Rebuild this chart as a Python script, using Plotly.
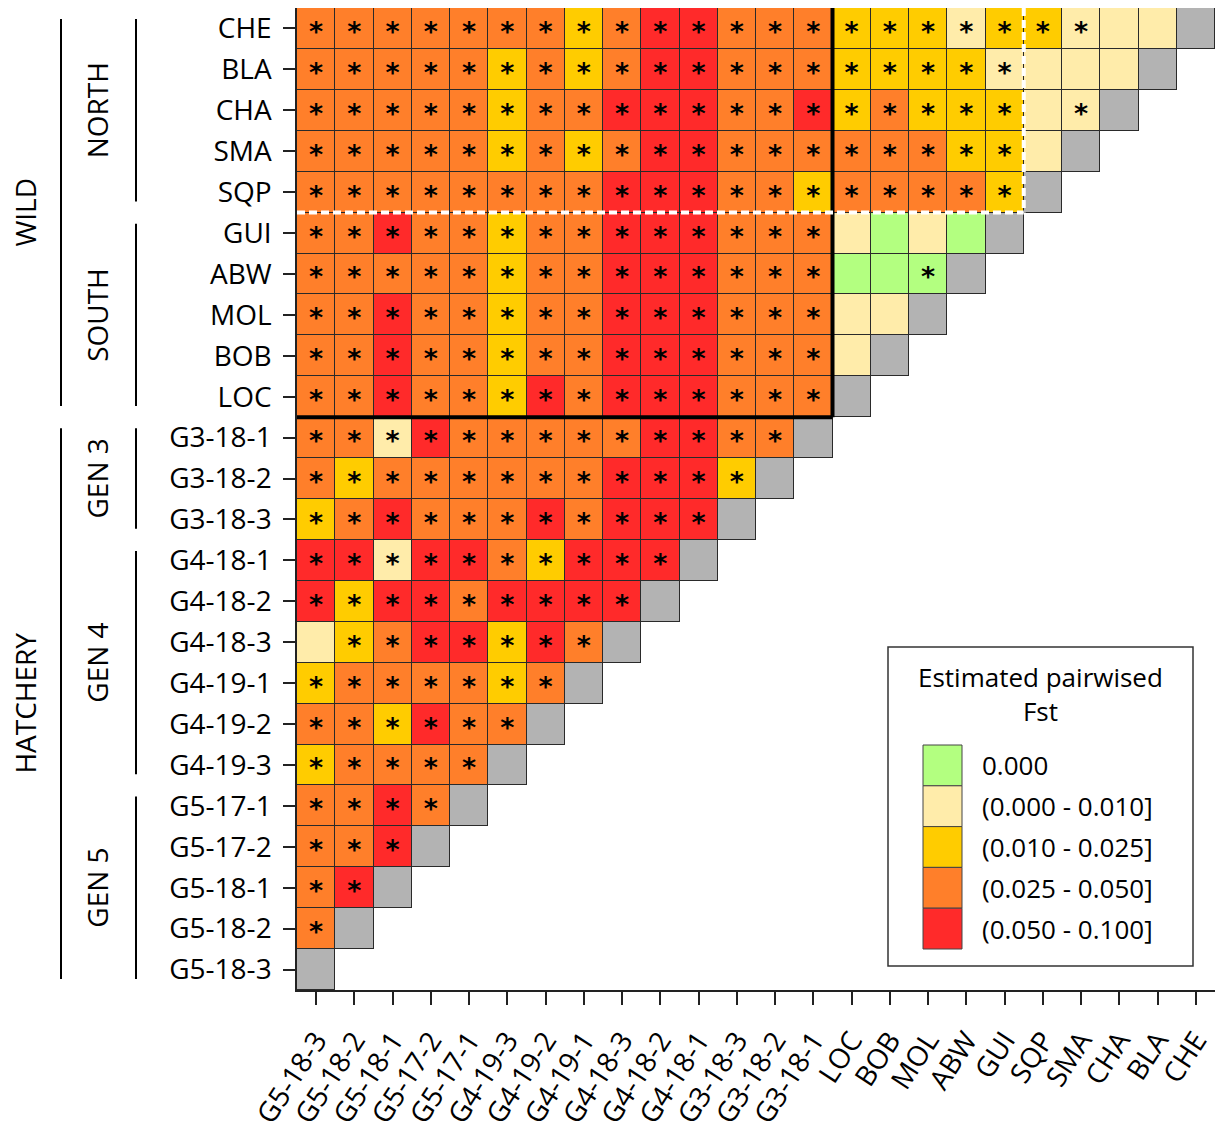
import plotly.graph_objects as go

# ---------------- data ----------------
row_labels = ["CHE", "BLA", "CHA", "SMA", "SQP", "GUI", "ABW", "MOL", "BOB", "LOC",
              "G3-18-1", "G3-18-2", "G3-18-3", "G4-18-1", "G4-18-2", "G4-18-3",
              "G4-19-1", "G4-19-2", "G4-19-3", "G5-17-1", "G5-17-2", "G5-18-1",
              "G5-18-2", "G5-18-3"]
col_labels = row_labels[::-1]

# Fst class per cell (0: 0.000, 1: (0-0.010], 2: (0.010-0.025], 3: (0.025-0.050], 4: (0.050-0.100])
# each string lists the cells of one row, from the first column (G5-18-3) to the one before the diagonal
fst_class = [
    "33333332344333222122111",   # CHE
    "3333323234433322221111",    # BLA
    "333332334443342322211",     # CHA
    "33333232344333333221",      # SMA
    "3333333344433233332",       # SQP
    "334332334443331010",        # GUI
    "33333233444333000",         # ABW
    "3343323344433311",          # MOL
    "334332334443331",           # BOB
    "33433243444333",            # LOC
    "3314333334433",             # G3-18-1
    "323333334442",              # G3-18-2
    "23433343444",               # G3-18-3
    "4414432444",                # G4-18-1
    "424434444",                 # G4-18-2
    "12344243",                  # G4-18-3
    "2333323",                   # G4-19-1
    "332433",                    # G4-19-2
    "23333",                     # G4-19-3
    "3343",                      # G5-17-1
    "334",                       # G5-17-2
    "34",                        # G5-18-1
    "3",                         # G5-18-2
    "",                          # G5-18-3
]

# pairs (row, column) whose Fst is NOT significant (no asterisk)
not_significant = [
    ("CHE", "CHA"), ("CHE", "BLA"),
    ("BLA", "SQP"), ("BLA", "SMA"), ("BLA", "CHA"),
    ("CHA", "SQP"), ("SMA", "SQP"),
    ("GUI", "LOC"), ("GUI", "BOB"), ("GUI", "MOL"), ("GUI", "ABW"),
    ("ABW", "LOC"), ("ABW", "BOB"),
    ("MOL", "LOC"), ("MOL", "BOB"),
    ("BOB", "LOC"),
    ("G4-18-3", "G5-18-3"),
]

class_labels = ["0.000", "(0.000 - 0.010]", "(0.010 - 0.025]", "(0.025 - 0.050]", "(0.050 - 0.100]"]
class_colors = ["#B3FF80", "#FFECAA", "#FFCC00", "#FF7F2A", "#FF2A2A"]
diag_color = "#B3B3B3"

outer_groups = [("WILD", "CHE", "LOC"), ("HATCHERY", "G3-18-1", "G5-18-3")]
inner_groups = [("NORTH", "CHE", "SQP"), ("SOUTH", "GUI", "LOC"), ("GEN 3", "G3-18-1", "G3-18-3"),
                ("GEN 4", "G4-18-1", "G4-19-3"), ("GEN 5", "G5-17-1", "G5-18-3")]

legend_title = "Estimated pairwised<br>Fst"

FONT = "Open Sans"

# ---------------- build matrices ----------------
n = len(row_labels)
z = [[None] * n for _ in range(n)]
z_bg = [[None] * n for _ in range(n)]
star_x, star_y = [], []
ns = set(not_significant)
for i, r in enumerate(row_labels):
    for j, ch in enumerate(fst_class[i]):
        z[i][j] = int(ch)
        z_bg[i][j] = 1
        if (r, col_labels[j]) not in ns:
            star_x.append(j)
            star_y.append(i)
    d = n - 1 - i
    z[i][d] = len(class_colors)
    z_bg[i][d] = 1

all_colors = class_colors + [diag_color]
k = len(all_colors)
cscale = []
for idx, c in enumerate(all_colors):
    cscale += [[idx / k, c], [(idx + 1) / k, c]]

fig = go.Figure()
fig.add_trace(go.Heatmap(z=z_bg, x=list(range(n)), y=list(range(n)),
                         colorscale=[[0, "#2a2a2a"], [1, "#2a2a2a"]],
                         showscale=False, hoverinfo="skip"))
fig.add_trace(go.Heatmap(z=z, x=list(range(n)), y=list(range(n)),
                         colorscale=cscale, zmin=-0.5, zmax=k - 0.5,
                         xgap=1, ygap=1, showscale=False))
fig.add_trace(go.Scatter(x=star_x, y=[v + 0.14 for v in star_y], mode="text",
                         text=["*"] * len(star_x),
                         textfont=dict(family="DejaVu Sans", size=27, color="black", weight="bold"),
                         textposition="middle center", hoverinfo="skip", showlegend=False))

shapes = []
annotations = []

# thick black separators (wild vs hatchery)
last_wild = row_labels.index("LOC")
hatch_col = col_labels.index("G3-18-1")
shapes.append(dict(type="line", xref="x", yref="y", x0=hatch_col + 0.5, x1=hatch_col + 0.5,
                   y0=-0.5, y1=last_wild + 0.5, line=dict(color="black", width=4)))
shapes.append(dict(type="line", xref="x", yref="y", x0=-0.5, x1=hatch_col + 0.5,
                   y0=last_wild + 0.5, y1=last_wild + 0.5, line=dict(color="black", width=4)))
# dashed white separators (north vs south)
last_north = row_labels.index("SQP")
gui_col = col_labels.index("GUI")
shapes.append(dict(type="line", xref="x", yref="y", x0=-0.5, x1=gui_col + 0.5,
                   y0=last_north + 0.5, y1=last_north + 0.5,
                   line=dict(color="white", width=4, dash="8px,4px")))
shapes.append(dict(type="line", xref="x", yref="y", x0=gui_col + 0.5, x1=gui_col + 0.5,
                   y0=-0.5, y1=last_north + 0.5,
                   line=dict(color="white", width=4, dash="8px,4px")))

# left group brackets
plot_w = 1215 - 297
def px_to_paper_x(px):
    return (px - 297) / plot_w

inset = 0.27
for groups, line_px, text_px in [(outer_groups, 61, 25), (inner_groups, 136, 97)]:
    for name, a, b in groups:
        ia, ib = row_labels.index(a), row_labels.index(b)
        shapes.append(dict(type="line", xref="paper", yref="y",
                           x0=px_to_paper_x(line_px), x1=px_to_paper_x(line_px),
                           y0=ia - 0.5 + inset, y1=ib + 0.5 - inset,
                           line=dict(color="black", width=2)))
        annotations.append(dict(xref="paper", yref="y", x=px_to_paper_x(text_px),
                                y=(ia + ib) / 2, text=name, textangle=-90, showarrow=False,
                                xanchor="center", yanchor="middle",
                                font=dict(family=FONT, size=28, color="black")))

# legend box
plot_h = 990 - 8
def py_to_paper_y(py):
    return (990 - py) / plot_h

shapes.append(dict(type="rect", xref="paper", yref="paper",
                   x0=px_to_paper_x(888), x1=px_to_paper_x(1193),
                   y0=py_to_paper_y(966), y1=py_to_paper_y(647),
                   line=dict(color="#333333", width=1.5), fillcolor="white", layer="above"))
annotations.append(dict(xref="paper", yref="paper", x=px_to_paper_x(1040), y=py_to_paper_y(694),
                        text=legend_title, showarrow=False, xanchor="center", yanchor="middle",
                        align="center", font=dict(family=FONT, size=26, color="black")))
sw_h = 40.8
for idx, (lab, col) in enumerate(zip(class_labels, class_colors)):
    top = 745 + idx * sw_h
    shapes.append(dict(type="rect", xref="paper", yref="paper",
                       x0=px_to_paper_x(923), x1=px_to_paper_x(962),
                       y0=py_to_paper_y(top + sw_h), y1=py_to_paper_y(top),
                       line=dict(color="#444444", width=1), fillcolor=col, layer="above"))
    annotations.append(dict(xref="paper", yref="paper", x=px_to_paper_x(980),
                            y=py_to_paper_y(top + sw_h / 2), text=lab, showarrow=False,
                            xanchor="left", yanchor="middle",
                            font=dict(family=FONT, size=26, color="black")))

fig.update_layout(
    width=1215, height=1137,
    margin=dict(l=297, r=0, t=8, b=147),
    paper_bgcolor="white", plot_bgcolor="white",
    showlegend=False,
    shapes=shapes, annotations=annotations,
    xaxis=dict(range=[-0.5, n - 0.5], tickvals=list(range(n)), ticktext=col_labels,
               tickangle=-57, ticks="outside", ticklen=13, tickwidth=1.5, tickcolor="#222222",
               showline=True, linecolor="#222222", linewidth=1.5, mirror=False,
               showgrid=False, zeroline=False, ticklabelstandoff=8,
               tickfont=dict(family=FONT, size=28, color="black")),
    yaxis=dict(range=[n - 0.5, -0.5], tickvals=list(range(n)), ticktext=row_labels,
               ticks="outside", ticklen=12, tickwidth=1.5, tickcolor="#222222",
               showline=True, linecolor="#222222", linewidth=1.5,
               showgrid=False, zeroline=False, ticklabelstandoff=6,
               tickfont=dict(family=FONT, size=28, color="black")),
)

fig.write_html("out.html", config={"displayModeBar": False},
               post_script="document.body.style.margin='0';document.body.style.overflow='hidden';")
